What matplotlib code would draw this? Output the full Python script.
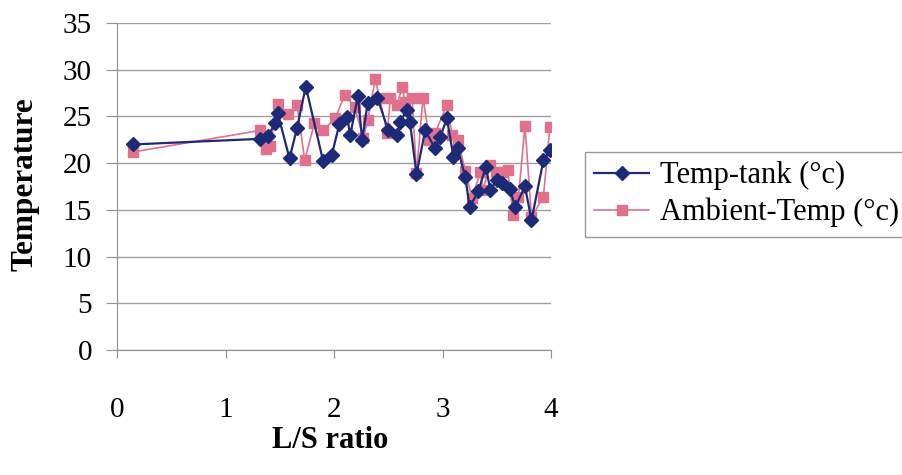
import matplotlib
matplotlib.use("Agg")
from matplotlib import pyplot as plt

# L/S ratio and temperatures
tank_x = [0.15, 1.32, 1.39, 1.46, 1.48, 1.59, 1.66, 1.74, 1.90, 1.98, 2.05, 2.12, 2.15, 2.22,
          2.26, 2.31, 2.40, 2.50, 2.58, 2.61, 2.67, 2.70, 2.76, 2.84, 2.93, 2.98, 3.04, 3.10,
          3.14, 3.21, 3.25, 3.33, 3.40, 3.44, 3.50, 3.55, 3.62, 3.67, 3.76, 3.82, 3.93, 3.99]
tank_t = [22.0, 22.6, 22.9, 24.3, 25.4, 20.5, 23.8, 28.2, 20.2, 20.9, 24.2, 24.9, 23.0, 27.2,
          22.5, 26.4, 27.0, 23.5, 23.0, 24.4, 25.7, 24.4, 18.8, 23.5, 21.6, 22.8, 24.8, 20.7,
          21.6, 18.5, 15.3, 17.0, 19.6, 17.1, 18.2, 17.9, 17.2, 15.3, 17.5, 13.9, 20.3, 21.4]

amb_x = [0.15, 1.32, 1.37, 1.41, 1.48, 1.58, 1.66, 1.73, 1.82, 1.90, 2.01, 2.10, 2.19, 2.27,
         2.31, 2.38, 2.42, 2.49, 2.52, 2.58, 2.63, 2.65, 2.72, 2.76, 2.82, 2.88, 2.93, 3.04,
         3.09, 3.14, 3.21, 3.27, 3.35, 3.37, 3.44, 3.49, 3.55, 3.60, 3.65, 3.70, 3.76, 3.82,
         3.93, 3.99]
amb_t = [21.2, 23.5, 21.5, 21.8, 26.3, 25.3, 26.2, 20.3, 24.3, 23.5, 24.8, 27.3, 26.0, 22.7,
         24.6, 29.0, 27.0, 23.2, 27.0, 26.2, 28.2, 26.5, 27.0, 18.9, 27.0, 22.5, 23.2, 26.2,
         23.0, 22.5, 19.2, 16.3, 19.0, 17.1, 19.8, 19.0, 19.1, 19.3, 14.5, 16.4, 24.0, 14.2,
         16.4, 23.9]

x_ticks = [0, 1, 2, 3, 4]
y_ticks = [0, 5, 10, 15, 20, 25, 30, 35]

plt.rcParams['font.family'] = ['Liberation Serif', 'DejaVu Serif']

fig = plt.figure(figsize=(9.02, 4.75), dpi=100)
ax = fig.add_axes([0.1297, 0.2632, 0.4812, 0.6884])

blue = '#1c2a78'
pink = '#e0708c'
ax.plot(tank_x, tank_t, color=blue, marker='D', markersize=7, linewidth=1.6,
        label='Temp-tank (°c)', zorder=3)
ax.plot(amb_x, amb_t, color=pink, marker='s', markersize=7.5, linewidth=1.2,
        label='Ambient-Temp (°c)', zorder=2)

ax.set_xlim(0, 4)
ax.set_ylim(0, 35)
ax.set_xticks(x_ticks)
ax.set_yticks(y_ticks)
ax.yaxis.grid(True, color='#a0a0a0', linewidth=1)
ax.set_axisbelow(True)

for s in ['top', 'right']:
    ax.spines[s].set_visible(False)
ax.spines['left'].set_color('#909090')
ax.spines['bottom'].set_color('#909090')

ax.tick_params(axis='x', direction='out', length=6, pad=28, labelsize=21, color='#909090')
ax.tick_params(axis='y', direction='out', length=8, pad=10, labelsize=21, color='#909090')

fig.text(0.366, 0.072, 'L/S ratio', ha='center', va='center', fontsize=22, fontweight='bold')
fig.text(0.028, 0.613, 'Temperature', ha='center', va='center', rotation=90,
         fontsize=22.5, fontweight='bold')

leg = ax.legend(loc='upper left', bbox_to_anchor=(0.6486, 0.68),
                bbox_transform=fig.transFigure, fontsize=22, frameon=True,
                fancybox=False, edgecolor='#808080', borderpad=0.3,
                handlelength=1.8, handletextpad=0.35, labelspacing=0.25,
                borderaxespad=0)
leg.get_frame().set_linewidth(1)

fig.savefig('out.png', dpi=100)
